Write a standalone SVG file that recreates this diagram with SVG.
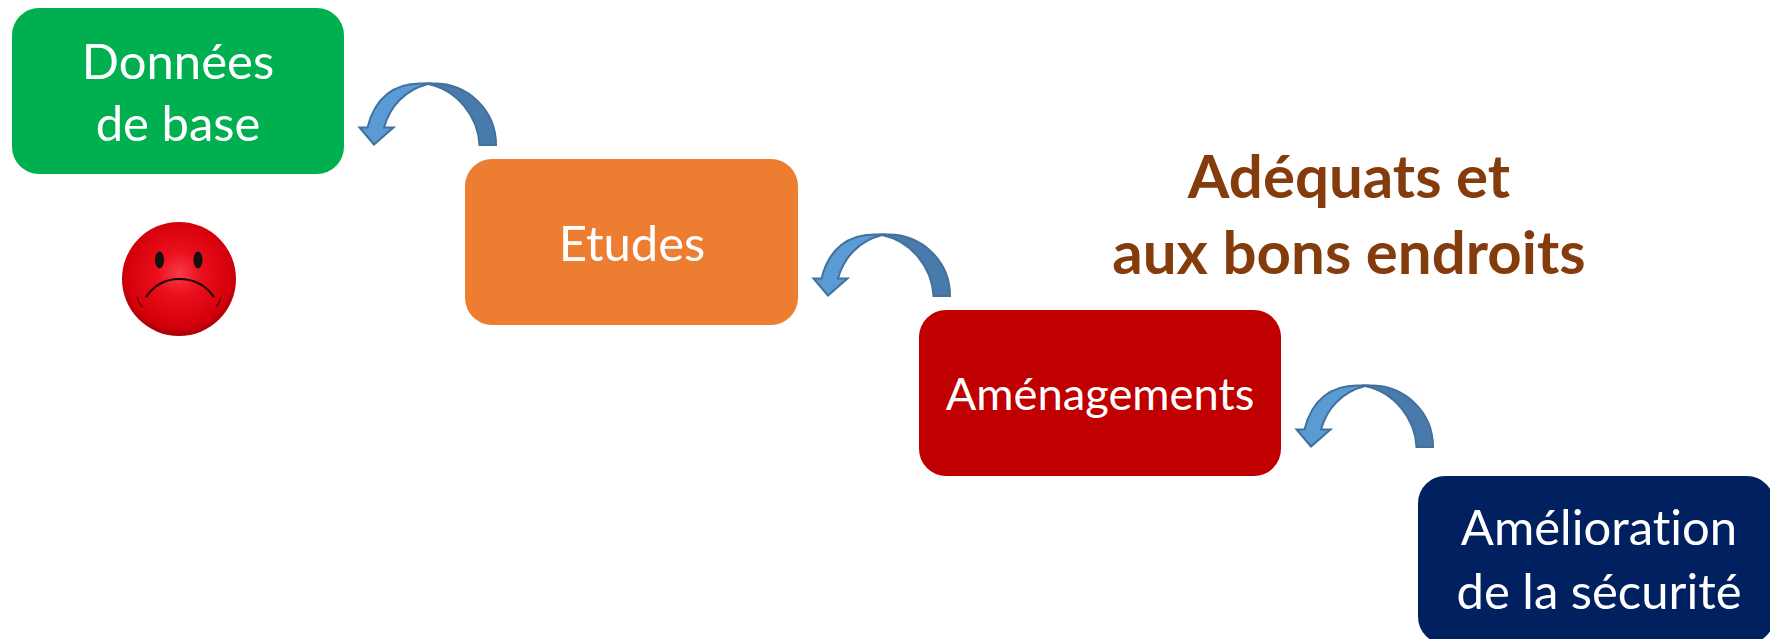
<svg xmlns="http://www.w3.org/2000/svg" width="1770" height="639" viewBox="0 0 1770 639">
<style>
text{font-family:Lato,"Open Sans",sans-serif;text-anchor:middle;font-variant-ligatures:none}
.l{font-size:49px;fill:#fff}
.h{font-size:60px;font-weight:700;fill:#843C0C}
</style>
<defs>
<radialGradient id="rg" cx="0.5" cy="0.45" r="0.55">
<stop offset="0" stop-color="#f53a48"/><stop offset="0.35" stop-color="#ec0f1c"/><stop offset="0.85" stop-color="#d3000a"/><stop offset="1" stop-color="#a80008"/>
</radialGradient>
<g id="arr" stroke="#41719C" stroke-width="2" stroke-linejoin="miter">
<path fill="#487AAB" d="M425,83.500H434C468,83.500 496,110 496,145H479.500C478,116 457,90 428,84Z"/>
<path fill="#5B9BD5" d="M432,83.500H420C395,83.500 375,97 367.500,127.500H359.500L374,144.500L393.500,127.500H384C390,106 405,90 428,84Z"/>
</g>
</defs>
<g id="connectors">
<use href="#arr"/>
<use href="#arr" x="454" y="151"/>
<use href="#arr" x="937" y="302"/>
</g>
<g id="n1"><rect x="12" y="8" width="332" height="166" rx="27" fill="#00B050"/><text class="l" x="178" y="79">Données</text><text class="l" x="178" y="141">de base</text></g>
<g id="n2"><rect x="465" y="159" width="333" height="166" rx="27" fill="#ED7D31"/><text class="l" x="632" y="261">Etudes</text></g>
<g id="n3"><rect x="919" y="310" width="362" height="166" rx="27" fill="#C00000"/><text class="l" x="1100" y="410" style="font-size:45.300px">Aménagements</text></g>
<g id="n4"><rect x="1418" y="476" width="356" height="168" rx="27" fill="#002060"/><text class="l" x="1599" y="545">Amélioration</text><text class="l" x="1599" y="609">de la sécurité</text></g>
<g id="smiley">
<circle cx="179" cy="279" r="57" fill="url(#rg)"/>
<ellipse cx="159.500" cy="260" rx="4.500" ry="8.500" fill="#111"/>
<ellipse cx="198" cy="260" rx="4.500" ry="8.500" fill="#111"/>
<path d="M146,297C155,284 167,279 179,279C192,279 205,284 214,297" fill="none" stroke="#1a0505" stroke-width="2"/>
<path d="M137,297Q139,304 143,307M221,297Q219,304 216,307" fill="none" stroke="#5a0505" stroke-width="1.200"/>
</g>
<g id="caption"><text class="h" x="1349" y="198">Adéquats et</text><text class="h" x="1349" y="274">aux bons endroits</text></g>
</svg>
